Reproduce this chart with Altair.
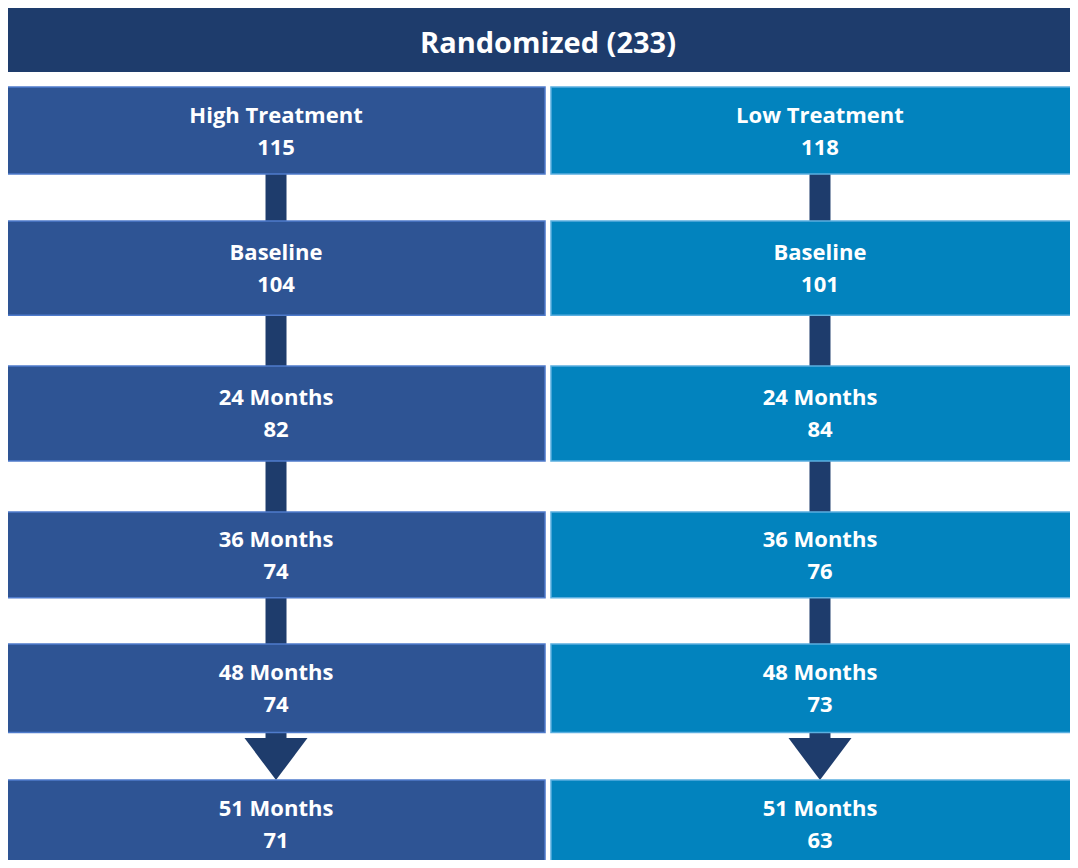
import altair as alt
import pandas as pd

# ---------------- data ----------------
title_text = "Randomized (233)"
arms = ["High Treatment", "Low Treatment"]
arm_totals = [115, 118]
stages = ["Baseline", "24 Months", "36 Months", "48 Months", "51 Months"]
high_counts = [104, 82, 74, 74, 71]
low_counts = [101, 84, 76, 73, 63]

# ---------------- layout / style ----------------
W, H = 1062, 852
BOX_H = 0.65          # box height in row units
GAP = 0.0055          # gap between columns in column units
TITLE_Y = (-0.57, -0.108)
ARROW_OFF = 0.154
# piecewise row scale (row index -> pixel row top)
Y_DOMAIN = [-1, 0, 1, 2, 3, 4, 5, 6]
Y_RANGE = [-59.6, 79, 213, 358, 504, 636, 772, 908]
X_DOMAIN = [0, 2]
X_RANGE = [-1, 1081]
fill_colors = ["#2E5494", "#0283BE"]
stroke_colors = ["#4F7BCB", "#5BAFE0"]
title_color = "#1E3C6C"
conn_color = "#1E3C6C"
FONT = "Open Sans"

box_rows, conn_rows, arrow_rows = [], [], []
for a, (arm, tot, counts) in enumerate(zip(arms, arm_totals, [high_counts, low_counts])):
    labels = [arm] + stages
    values = [tot] + counts
    x0 = a + (GAP if a else 0)
    x1 = a + 1 - (0 if a else GAP)
    xc = (x0 + x1) / 2
    for i, (lab, v) in enumerate(zip(labels, values)):
        box_rows.append(dict(arm=arm, x=x0, x2=x1, xc=xc, y=i, y2=i + BOX_H,
                             ym=i + BOX_H / 2, label=lab, n=str(v)))
    last = len(labels) - 1
    for i in range(last):
        end = i + 1 if i < last - 1 else last - ARROW_OFF
        conn_rows.append(dict(arm=arm, xc=xc, y=i + BOX_H, y2=end))
    arrow_rows.append(dict(arm=arm, xc=xc, y=last - ARROW_OFF))

boxes = pd.DataFrame(box_rows)
conns = pd.DataFrame(conn_rows)
arrows = pd.DataFrame(arrow_rows)
title_df = pd.DataFrame([dict(x=X_DOMAIN[0], x2=X_DOMAIN[1], xm=sum(X_DOMAIN) / 2,
                              y=TITLE_Y[0], y2=TITLE_Y[1], ym=sum(TITLE_Y) / 2,
                              t=title_text)])

xs = alt.Scale(domain=X_DOMAIN, range=X_RANGE)
ys = alt.Scale(domain=Y_DOMAIN, range=Y_RANGE)
fill_scale = alt.Scale(domain=arms, range=fill_colors)
stroke_scale = alt.Scale(domain=arms, range=stroke_colors)

title_box = alt.Chart(title_df).mark_rect(color=title_color).encode(
    x=alt.X("x:Q", scale=xs, axis=None), x2="x2",
    y=alt.Y("y:Q", scale=ys, axis=None), y2="y2")
title_lbl = alt.Chart(title_df).mark_text(
    color="white", font=FONT, fontWeight="bold", fontSize=29, dy=4).encode(
    x=alt.X("xm:Q", scale=xs, axis=None), y=alt.Y("ym:Q", scale=ys, axis=None), text="t:N")

connectors = alt.Chart(conns).mark_rule(strokeWidth=21, color=conn_color).encode(
    x=alt.X("xc:Q", scale=xs, axis=None),
    y=alt.Y("y:Q", scale=ys, axis=None), y2="y2")

arrow_heads = alt.Chart(arrows).mark_point(
    shape="M-1,-0.6667L1,-0.6667L0,0.6667Z", size=3969, filled=True,
    color=conn_color, opacity=1, strokeWidth=0).encode(
    x=alt.X("xc:Q", scale=xs, axis=None), y=alt.Y("y:Q", scale=ys, axis=None))

box_marks = alt.Chart(boxes).mark_rect(strokeWidth=1.5).encode(
    x=alt.X("x:Q", scale=xs, axis=None), x2="x2",
    y=alt.Y("y:Q", scale=ys, axis=None), y2="y2",
    fill=alt.Fill("arm:N", scale=fill_scale, legend=None),
    stroke=alt.Stroke("arm:N", scale=stroke_scale, legend=None))

lbl = alt.Chart(boxes).mark_text(
    color="white", font=FONT, fontWeight="bold", fontSize=22, dy=-15).encode(
    x=alt.X("xc:Q", scale=xs, axis=None), y=alt.Y("ym:Q", scale=ys, axis=None), text="label:N")
num = alt.Chart(boxes).mark_text(
    color="white", font=FONT, fontWeight="bold", fontSize=22, dy=17).encode(
    x=alt.X("xc:Q", scale=xs, axis=None), y=alt.Y("ym:Q", scale=ys, axis=None), text="n:N")

chart = alt.layer(title_box, title_lbl, connectors, arrow_heads, box_marks, lbl, num).properties(
    width=W, height=H, padding=0, autosize=alt.AutoSizeParams(type="none"),
    background="white"
).configure_view(stroke=None)

chart.save("out.html", embed_options={"renderer": "svg", "actions": False})
